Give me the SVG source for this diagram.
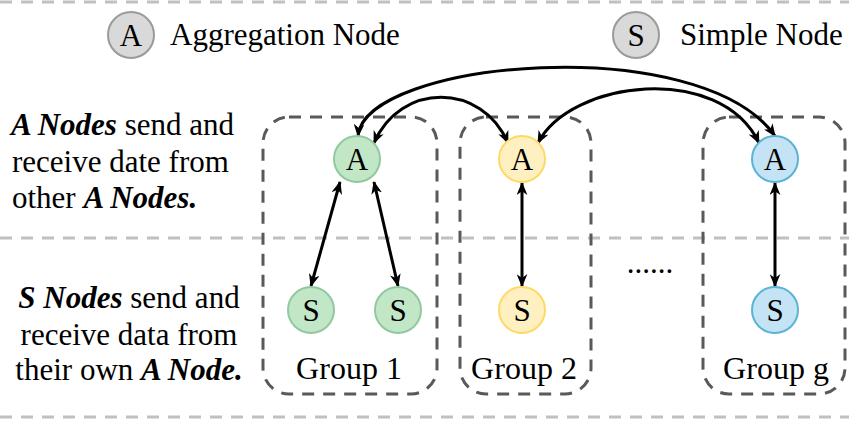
<svg xmlns="http://www.w3.org/2000/svg" width="849" height="421" viewBox="0 0 849 421">
<style>
.bi{font-weight:bold;font-style:italic}
.sep{stroke:#c0c0c0;stroke-width:3;stroke-dasharray:12 9;fill:none}
.grp{fill:none;stroke:#595959;stroke-width:3;stroke-dasharray:12 9}
.g{fill:#c1e7c6;stroke:#92c89f;stroke-width:2}
.y{fill:#fff0c1;stroke:#ffd966;stroke-width:2}
.b{fill:#c4e3f4;stroke:#5ab4d6;stroke-width:2}
.l{fill:#d9d9d9;stroke:#9a9a9a;stroke-width:2}
.c{fill:none;stroke:#000;stroke-width:3;marker-start:url(#ah);marker-end:url(#ah)}
.n{text-anchor:middle}
.gl{font-size:32px}
</style>
<defs>
<marker id="ah" viewBox="0 0 12 10" refX="11" refY="5" markerWidth="13" markerHeight="11" markerUnits="userSpaceOnUse" orient="auto-start-reverse">
<path d="M0,0 L12,5 L0,10 L3.5,5 Z" fill="#000"/>
</marker>
</defs>
<g id="separators">
<line class="sep" x1="0" y1="2" x2="849" y2="2"/>
<line class="sep" x1="0" y1="238" x2="849" y2="238"/>
<line class="sep" x1="0" y1="417" x2="849" y2="417"/>
</g>
<g font-family="'Liberation Serif', 'Times New Roman', serif" font-size="31" fill="#000">
<g id="legend">
<circle class="l" cx="131" cy="35" r="23"/>
<text class="n" x="131" y="46">A</text>
<text x="170" y="45">Aggregation Node</text>
<circle class="l" cx="636" cy="35" r="23"/>
<text class="n" x="636" y="46">S</text>
<text x="680" y="45">Simple Node</text>
</g>
<g id="desc-a">
<text x="11" y="135"><tspan class="bi">A Nodes</tspan> send and</text>
<text x="12" y="172">receive date from</text>
<text x="12" y="208">other <tspan class="bi">A Nodes.</tspan></text>
</g>
<g id="desc-s">
<text class="n" x="129" y="308"><tspan class="bi">S Nodes</tspan> send and</text>
<text class="n" x="129" y="345">receive data from</text>
<text class="n" x="129" y="380">their own <tspan class="bi">A Node.</tspan></text>
</g>
<g id="group1">
<rect class="grp" x="263" y="117" width="174" height="277" rx="26"/>
<text class="n gl" x="349" y="379">Group 1</text>
</g>
<g id="group2">
<rect class="grp" x="460" y="117" width="131" height="277" rx="26"/>
<text class="n gl" x="524" y="379">Group 2</text>
</g>
<g id="groupg">
<rect class="grp" x="703" y="117" width="142" height="277" rx="26"/>
<text class="n gl" x="776" y="379">Group g</text>
</g>
<g id="ellipsis"><text class="n" x="650" y="273">......</text></g>
<g id="connectors">
<path class="c" d="M340,182 L311,286"/>
<path class="c" d="M374,182 L398,286"/>
<path class="c" d="M522,183 L522,286"/>
<path class="c" d="M775,183 L775,286"/>
<path class="c" d="M358,136 C365,60 700,30 775,136"/>
<path class="c" d="M374,143 C400,82 482,82 508,143"/>
<path class="c" d="M538,143 C570,80 720,62 759,143"/>
</g>
<g id="node-a1"><circle class="g" cx="357" cy="159" r="23"/><text class="n" x="357" y="170">A</text></g>
<g id="node-a2"><circle class="y" cx="522" cy="159" r="23"/><text class="n" x="522" y="170">A</text></g>
<g id="node-ag"><circle class="b" cx="775" cy="159" r="23"/><text class="n" x="775" y="170">A</text></g>
<g id="node-s11"><circle class="g" cx="311" cy="310" r="23"/><text class="n" x="311" y="321">S</text></g>
<g id="node-s12"><circle class="g" cx="398" cy="310" r="23"/><text class="n" x="398" y="321">S</text></g>
<g id="node-s2"><circle class="y" cx="522" cy="310" r="23"/><text class="n" x="522" y="321">S</text></g>
<g id="node-sg"><circle class="b" cx="775" cy="310" r="23"/><text class="n" x="775" y="321">S</text></g>
</g>
</svg>
